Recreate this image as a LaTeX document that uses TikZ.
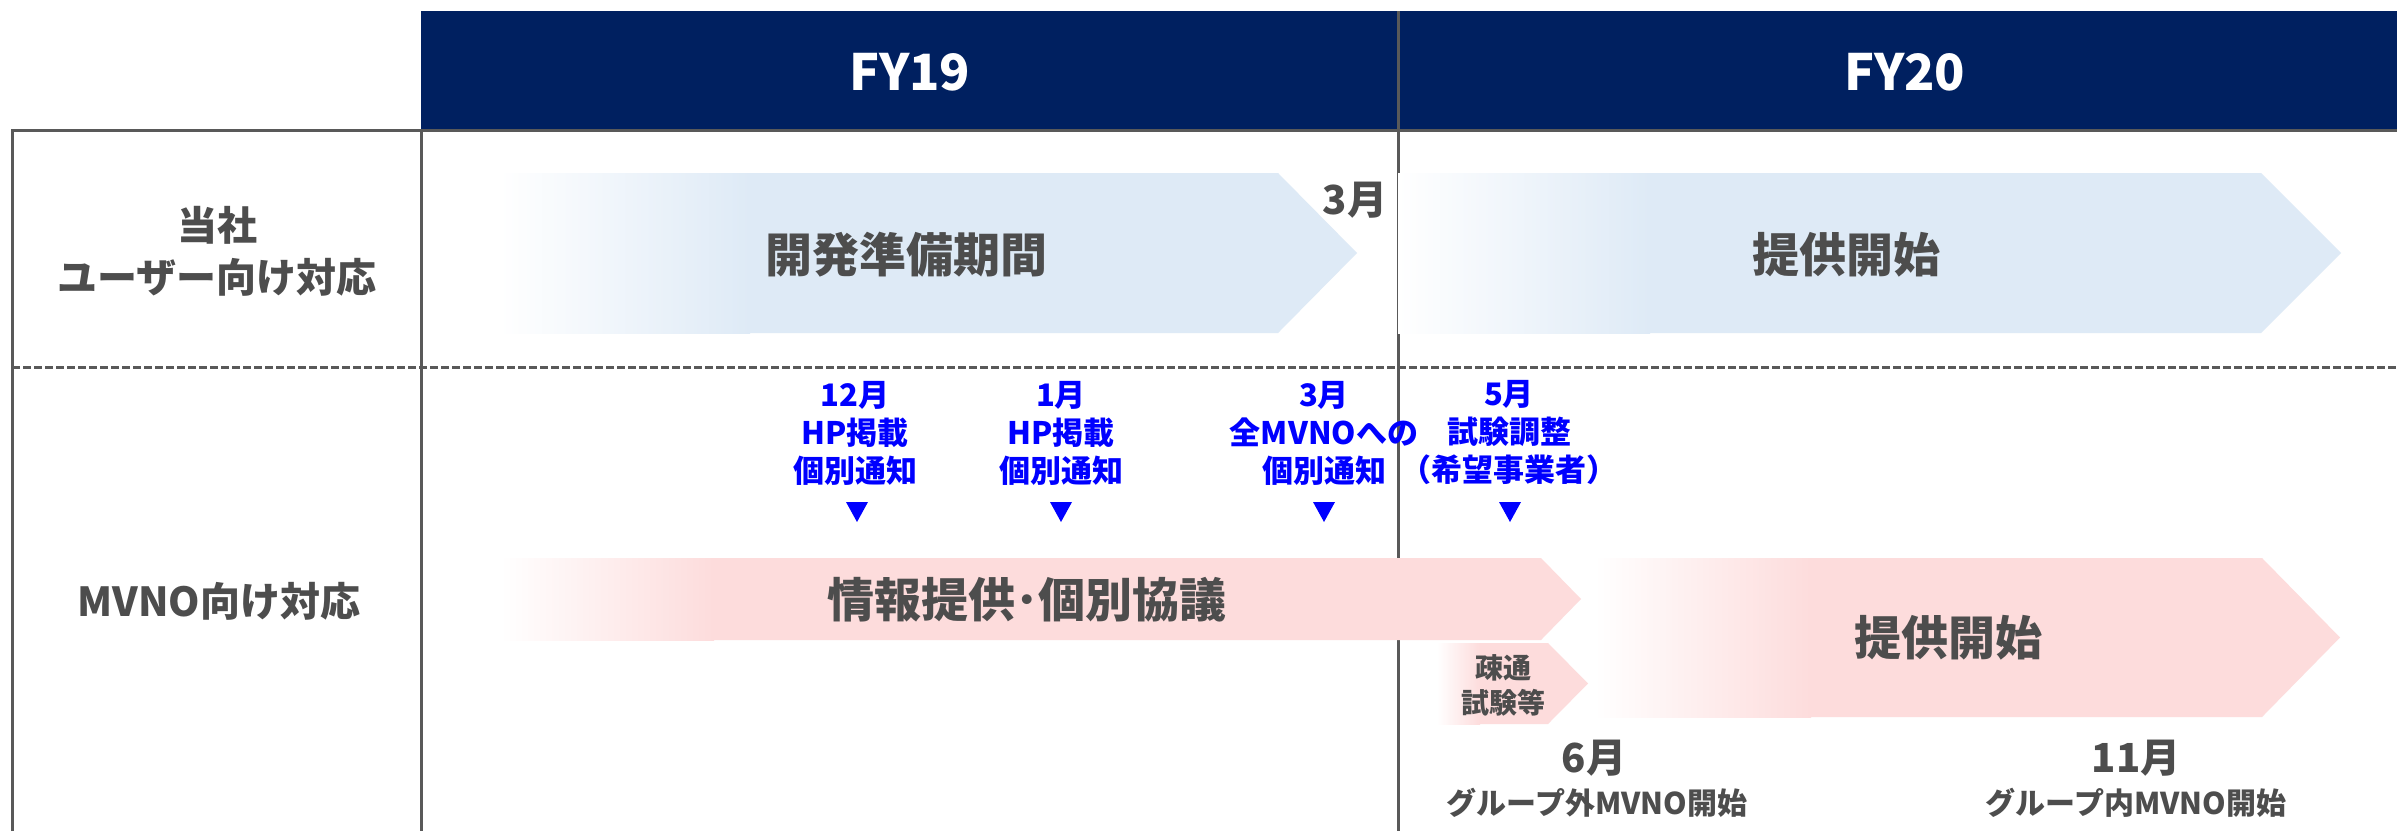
\documentclass[tikz,border=0pt]{standalone}
\usepackage{fontspec}
\setmainfont{Noto Sans CJK JP}
\definecolor{navy}{HTML}{002060}
\definecolor{txtgray}{HTML}{4D4D4D}
\definecolor{linegray}{HTML}{595959}
\definecolor{lblue}{HTML}{DEEAF6}
\definecolor{lpink}{HTML}{FDDCDC}
\definecolor{mblue}{HTML}{0000FF}
\tikzset{
  gridline/.style={draw=linegray, line width=3pt},
  dashline/.style={draw=linegray, line width=3pt, dash pattern=on 8pt off 3pt},
  grayfont/.style={text=txtgray, font=\bfseries, inner sep=0pt, align=center},
  bluefont/.style={text=mblue, font=\bfseries\fontsize{31}{38}\selectfont, inner sep=0pt, align=center},
  marker/.style={fill=mblue},
}
\newcommand{\chevron}[8]{% left, top, bottom, bodyend, tip, gradend, color, name
  \fill[#7] (#6-1,#2) -- (#4,#2) -- (#5,{(#2+#3)/2}) -- (#4,#3) -- (#6-1,#3) -- cycle;
  \shade[left color=white, right color=#7] (#1,#2) rectangle (#6,#3);
  \coordinate (#8) at ({(#1+#5)/2},{(#2+#3)/2});
}
\begin{document}
\begin{tikzpicture}[x=1pt,y=-1pt]
\useasboundingbox (0,0) rectangle (2397,831);
\fill[white] (0,0) rectangle (2397,831);
% header
\fill[navy] (421,11) rectangle (2397,129);
\node[grayfont, text=white, font=\bfseries\fontsize{50}{54}\selectfont] (fy19) at (910,72) {FY19};
\node[grayfont, text=white, font=\bfseries\fontsize{50}{54}\selectfont] (fy20) at (1905,72) {FY20};
% grid
\draw[gridline] (12,831) -- (12,130) -- (2397,130);
\draw[gridline] (421,130) -- (421,831);
\draw[gridline] (1398,11) -- (1398,831);
\draw[dashline] (12,367) -- (2397,367);
% row labels
\node[grayfont, font=\bfseries\fontsize{40}{52}\selectfont] (row1) at (217,251) {当社\\ユーザー向け対応};
\node[grayfont, font=\bfseries\fontsize{40}{52}\selectfont] (row2) at (219,601) {MVNO向け対応};
% row 1 arrows
\chevron{500}{173}{333}{1278}{1357}{750}{lblue}{a1}
\chevron{1398}{173}{333}{2261}{2341}{1650}{lblue}{a2}
\node[grayfont, font=\bfseries\fontsize{47}{52}\selectfont] (dev) at (906,255) {開発準備期間};
\node[grayfont, font=\bfseries\fontsize{47}{52}\selectfont] (prov1) at (1846,255) {提供開始};
\node[grayfont, font=\bfseries\fontsize{40}{46}\selectfont] (mar1) at (1355,200) {3月};
% row 2 blue milestones
\node[bluefont] (m12) at (855,433) {12月\\HP掲載\\個別通知};
\node[bluefont] (m1) at (1061,433) {1月\\HP掲載\\個別通知};
\node[bluefont] (m3) at (1324,433) {3月\\全MVNOへの\\個別通知};
\node[bluefont] (m5) at (1509,433) {5月\\試験調整\\（希望事業者）};
\foreach \x in {857,1061,1324,1510}{
  \fill[marker] (\x-11,502) -- (\x+11,502) -- (\x,522) -- cycle;
}
% row 2 arrows
\chevron{500}{558}{640}{1541}{1581}{714}{lpink}{b1}
\chevron{1594}{558}{717}{2262}{2340}{1811}{lpink}{b2}
\chevron{1437}{643}{724}{1548}{1588}{1480}{lpink}{b3}
\node[grayfont, font=\bfseries\fontsize{47}{52}\selectfont] (info) at (1027,600) {情報提供･個別協議};
\node[grayfont, font=\bfseries\fontsize{47}{52}\selectfont] (prov2) at (1948,638) {提供開始};
\node[grayfont, font=\bfseries\fontsize{28}{35}\selectfont] (sotsu) at (1503,685) {疎通\\試験等};
% bottom labels
\node[grayfont, font=\bfseries\fontsize{40}{46}\selectfont] (jun) at (1594,758) {6月};
\node[grayfont, font=\bfseries\fontsize{30}{36}\selectfont] (gout) at (1597,803) {グループ外MVNO開始};
\node[grayfont, font=\bfseries\fontsize{40}{46}\selectfont] (nov) at (2136,758) {11月};
\node[grayfont, font=\bfseries\fontsize{30}{36}\selectfont] (gin) at (2136,803) {グループ内MVNO開始};
\end{tikzpicture}
\end{document}
